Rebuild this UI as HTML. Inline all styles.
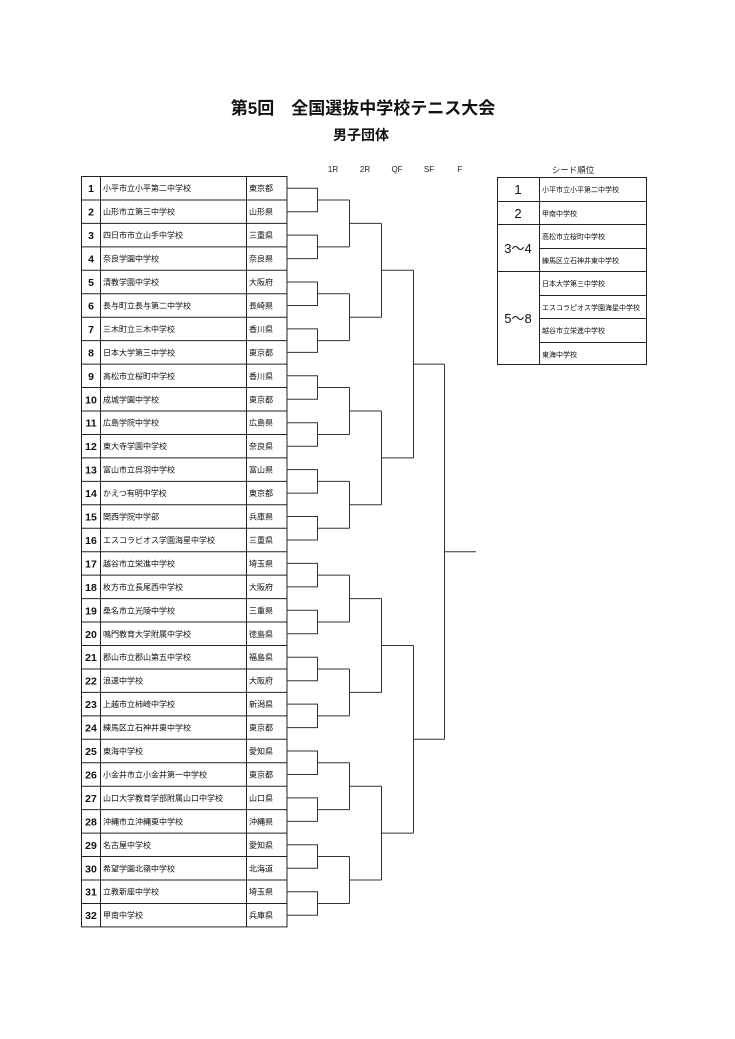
<!DOCTYPE html>
<html><head><meta charset="utf-8"><style>
html,body{margin:0;padding:0;background:#fff;}
svg{display:block;font-family:"Liberation Sans","Noto Sans CJK JP",sans-serif;}
</style></head><body>
<svg width="735" height="1039" viewBox="0 0 735 1039" xmlns="http://www.w3.org/2000/svg">
<text x="363" y="114" font-size="17" font-weight="bold" text-anchor="middle" fill="#111">第5回　全国選抜中学校テニス大会</text>
<text x="361" y="140" font-size="14" font-weight="bold" text-anchor="middle" fill="#111">男子団体</text>
<g font-size="8" fill="#222" text-anchor="middle">
<text x="333" y="172">1R</text><text x="365" y="172">2R</text><text x="397" y="172">QF</text><text x="429" y="172">SF</text><text x="460" y="172">F</text>
</g>
<g stroke="#222" fill="none" stroke-width="1">
<rect x="81.5" y="176.5" width="205.5" height="750.4"/>
<line x1="100.5" y1="176.5" x2="100.5" y2="927"/>
<line x1="246.5" y1="176.5" x2="246.5" y2="927"/>
<path d="M81 199.95H287M81 223.4H287M81 246.85H287M81 270.3H287M81 293.75H287M81 317.2H287M81 340.65H287M81 364.1H287M81 387.55H287M81 411H287M81 434.45H287M81 457.9H287M81 481.35H287M81 504.8H287M81 528.25H287M81 551.7H287M81 575.15H287M81 598.6H287M81 622.05H287M81 645.5H287M81 668.95H287M81 692.4H287M81 715.85H287M81 739.3H287M81 762.75H287M81 786.2H287M81 809.65H287M81 833.1H287M81 856.55H287M81 880H287M81 903.45H287"/>
</g>
<g stroke="#333" fill="none" stroke-width="1">
<path d="M287 188.2H317.5V211.7H287 M317.5 199.95H349.5
M287 235.1H317.5V258.6H287 M317.5 246.85H349.5
M287 282H317.5V305.5H287 M317.5 293.75H349.5
M287 328.9H317.5V352.4H287 M317.5 340.65H349.5
M287 375.8H317.5V399.3H287 M317.5 387.55H349.5
M287 422.7H317.5V446.2H287 M317.5 434.45H349.5
M287 469.6H317.5V493.1H287 M317.5 481.35H349.5
M287 516.5H317.5V540H287 M317.5 528.25H349.5
M287 563.4H317.5V586.9H287 M317.5 575.15H349.5
M287 610.3H317.5V633.8H287 M317.5 622.05H349.5
M287 657.2H317.5V680.7H287 M317.5 668.95H349.5
M287 704.1H317.5V727.6H287 M317.5 715.85H349.5
M287 751H317.5V774.5H287 M317.5 762.75H349.5
M287 797.9H317.5V821.4H287 M317.5 809.65H349.5
M287 844.8H317.5V868.3H287 M317.5 856.55H349.5
M287 891.7H317.5V915.2H287 M317.5 903.45H349.5
M349.5 199.95V246.85M349.5 223.4H381.5
M349.5 293.75V340.65M349.5 317.2H381.5
M349.5 387.55V434.45M349.5 411H381.5
M349.5 481.35V528.25M349.5 504.8H381.5
M349.5 575.15V622.05M349.5 598.6H381.5
M349.5 668.95V715.85M349.5 692.4H381.5
M349.5 762.75V809.65M349.5 786.2H381.5
M349.5 856.55V903.45M349.5 880H381.5
M381.5 223.4V317.2M381.5 270.3H413.5
M381.5 411V504.8M381.5 457.9H413.5
M381.5 598.6V692.4M381.5 645.5H413.5
M381.5 786.2V880M381.5 833.1H413.5
M413.5 270.3V457.9M413.5 364.1H444.5
M413.5 645.5V833.1M413.5 739.3H444.5
M444.5 364.1V739.3M444.5 551.7H476"/>
</g>
<g fill="#111" font-size="10.5" font-weight="bold" text-anchor="middle">
<text x="91" y="192.2">1</text><text x="91" y="215.7">2</text><text x="91" y="239.1">3</text><text x="91" y="262.6">4</text><text x="91" y="286">5</text><text x="91" y="309.5">6</text><text x="91" y="332.9">7</text><text x="91" y="356.4">8</text><text x="91" y="379.8">9</text><text x="91" y="403.3">10</text><text x="91" y="426.7">11</text><text x="91" y="450.2">12</text><text x="91" y="473.6">13</text><text x="91" y="497.1">14</text><text x="91" y="520.5">15</text><text x="91" y="544">16</text><text x="91" y="567.4">17</text><text x="91" y="590.9">18</text><text x="91" y="614.3">19</text><text x="91" y="637.8">20</text><text x="91" y="661.2">21</text><text x="91" y="684.7">22</text><text x="91" y="708.1">23</text><text x="91" y="731.6">24</text><text x="91" y="755">25</text><text x="91" y="778.5">26</text><text x="91" y="801.9">27</text><text x="91" y="825.4">28</text><text x="91" y="848.8">29</text><text x="91" y="872.3">30</text><text x="91" y="895.7">31</text><text x="91" y="919.2">32</text>
</g>
<g fill="#111" font-size="8">
<text x="103" y="191.2">小平市立小平第二中学校</text><text x="103" y="214.7">山形市立第三中学校</text><text x="103" y="238.1">四日市市立山手中学校</text><text x="103" y="261.6">奈良学園中学校</text><text x="103" y="285">清教学園中学校</text><text x="103" y="308.5">長与町立長与第二中学校</text><text x="103" y="331.9">三木町立三木中学校</text><text x="103" y="355.4">日本大学第三中学校</text><text x="103" y="378.8">高松市立桜町中学校</text><text x="103" y="402.3">成城学園中学校</text><text x="103" y="425.7">広島学院中学校</text><text x="103" y="449.2">東大寺学園中学校</text><text x="103" y="472.6">富山市立呉羽中学校</text><text x="103" y="496.1">かえつ有明中学校</text><text x="103" y="519.5">関西学院中学部</text><text x="103" y="543">エスコラピオス学園海星中学校</text><text x="103" y="566.4">越谷市立栄進中学校</text><text x="103" y="589.9">枚方市立長尾西中学校</text><text x="103" y="613.3">桑名市立光陵中学校</text><text x="103" y="636.8">鳴門教育大学附属中学校</text><text x="103" y="660.2">郡山市立郡山第五中学校</text><text x="103" y="683.7">浪速中学校</text><text x="103" y="707.1">上越市立柿崎中学校</text><text x="103" y="730.6">練馬区立石神井東中学校</text><text x="103" y="754">東海中学校</text><text x="103" y="777.5">小金井市立小金井第一中学校</text><text x="103" y="800.9">山口大学教育学部附属山口中学校</text><text x="103" y="824.4">沖縄市立沖縄東中学校</text><text x="103" y="847.8">名古屋中学校</text><text x="103" y="871.3">希望学園北嶺中学校</text><text x="103" y="894.7">立教新座中学校</text><text x="103" y="918.2">甲南中学校</text>
<text x="249" y="191.2">東京都</text><text x="249" y="214.7">山形県</text><text x="249" y="238.1">三重県</text><text x="249" y="261.6">奈良県</text><text x="249" y="285">大阪府</text><text x="249" y="308.5">長崎県</text><text x="249" y="331.9">香川県</text><text x="249" y="355.4">東京都</text><text x="249" y="378.8">香川県</text><text x="249" y="402.3">東京都</text><text x="249" y="425.7">広島県</text><text x="249" y="449.2">奈良県</text><text x="249" y="472.6">富山県</text><text x="249" y="496.1">東京都</text><text x="249" y="519.5">兵庫県</text><text x="249" y="543">三重県</text><text x="249" y="566.4">埼玉県</text><text x="249" y="589.9">大阪府</text><text x="249" y="613.3">三重県</text><text x="249" y="636.8">徳島県</text><text x="249" y="660.2">福島県</text><text x="249" y="683.7">大阪府</text><text x="249" y="707.1">新潟県</text><text x="249" y="730.6">東京都</text><text x="249" y="754">愛知県</text><text x="249" y="777.5">東京都</text><text x="249" y="800.9">山口県</text><text x="249" y="824.4">沖縄県</text><text x="249" y="847.8">愛知県</text><text x="249" y="871.3">北海道</text><text x="249" y="894.7">埼玉県</text><text x="249" y="918.2">兵庫県</text>
</g>
<text x="573" y="173" font-size="8.5" text-anchor="middle" fill="#222">シード順位</text>
<g stroke="#222" fill="none" stroke-width="1">
<rect x="497.5" y="177.5" width="149" height="187"/>
<line x1="539.5" y1="177" x2="539.5" y2="364"/>
<line x1="497" y1="201.5" x2="647" y2="201.5"/>
<line x1="497" y1="224.5" x2="647" y2="224.5"/>
<line x1="539" y1="248.5" x2="647" y2="248.5"/>
<line x1="497" y1="271.5" x2="647" y2="271.5"/>
<line x1="539" y1="295.5" x2="647" y2="295.5"/>
<line x1="539" y1="318.5" x2="647" y2="318.5"/>
<line x1="539" y1="342.5" x2="647" y2="342.5"/>
</g>
<g fill="#111" font-size="13" text-anchor="middle">
<text x="518" y="194">1</text><text x="518" y="218">2</text><text x="518" y="253">3～4</text><text x="518" y="323">5～8</text>
</g>
<g fill="#111" font-size="7">
<text x="542" y="192">小平市立小平第二中学校</text>
<text x="542" y="216">甲南中学校</text>
<text x="542" y="239">高松市立桜町中学校</text>
<text x="542" y="263">練馬区立石神井東中学校</text>
<text x="542" y="286">日本大学第三中学校</text>
<text x="542" y="310">エスコラピオス学園海星中学校</text>
<text x="542" y="333">越谷市立栄進中学校</text>
<text x="542" y="357">東海中学校</text>
</g>
</svg>
</body></html>
